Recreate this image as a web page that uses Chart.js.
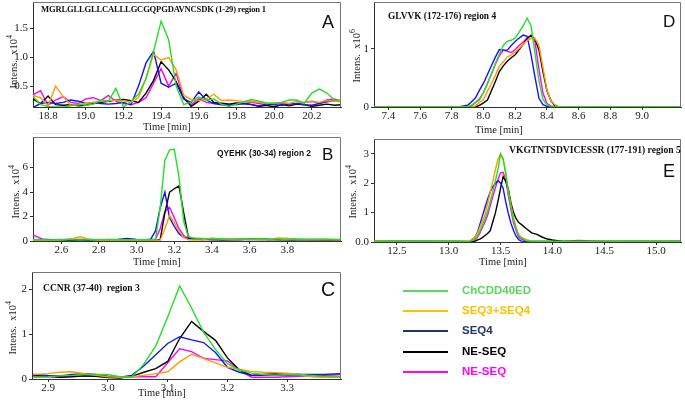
<!DOCTYPE html>
<html><head><meta charset="utf-8">
<script src="https://cdn.jsdelivr.net/npm/chart.js@4.4.1/dist/chart.umd.min.js"></script>
<style>
html,body{margin:0;padding:0;background:#fff;}
body{width:685px;height:401px;overflow:hidden;position:relative;}
canvas{position:absolute;}
.t{position:absolute;white-space:nowrap;line-height:1;}
.pep{font-family:'Liberation Serif','Times New Roman',serif;font-weight:bold;color:#111;}
.pepS{font-family:'Liberation Sans',Arial,sans-serif;font-weight:bold;color:#111;}
.let{font-family:'Liberation Sans',Arial,sans-serif;color:#111;}
.ax{font-family:'Liberation Serif','Times New Roman',serif;font-size:10.5px;color:#222;}
.leg{font-family:'Liberation Sans',Arial,sans-serif;font-weight:bold;font-size:11.5px;}
.ll{position:absolute;height:2.5px;width:45px;left:403px;}
.sep{position:absolute;height:1px;background:#e2e2e2;}
</style></head><body>
<canvas id="cA" width="343" height="135" style="left:0;top:0"></canvas>
<canvas id="cB" width="343" height="133" style="left:0;top:135px"></canvas>
<canvas id="cC" width="343" height="131" style="left:0;top:270px"></canvas>
<canvas id="cD" width="342" height="135" style="left:341px;top:0"></canvas>
<canvas id="cE" width="342" height="131" style="left:341px;top:137px"></canvas>
<div class="sep" style="left:33px;top:133px;width:308px"></div>
<div id="overlay"></div>
<script>
// ---------- series names / colours ----------
const seriesNames = ['ChCDD40ED', 'SEQ3+SEQ4', 'SEQ4', 'NE-SEQ', 'NE-SEQ'];
const lineColors = ['#22e022', '#ff9a00', '#1414f0', '#000000', '#ff00ff'];
const legendColors = ['#5ad65a', '#ffc000', '#1f3864', '#000000', '#ff00ff'];

// ---------- Panel A : MGRLGLLGLLCALLLGCGQPGDAVNCSDK (1-29) region 1 ----------
const timeA = [18.72,18.76,18.80,18.84,18.88,18.92,18.96,19.00,19.04,19.08,19.12,19.16,19.20,19.24,19.28,19.32,19.36,19.40,19.44,19.48,19.52,19.56,19.60,19.64,19.68,19.72,19.76,19.80,19.84,19.88,19.92,19.96,20.00,20.04,20.08,20.12,20.16,20.20,20.24,20.28,20.32,20.36];
const chcddA = [0.32,0.18,0.15,0.14,0.14,0.16,0.19,0.17,0.19,0.26,0.24,0.46,0.14,0.24,0.36,0.63,1.10,1.62,1.30,0.50,0.18,0.23,0.31,0.26,0.28,0.19,0.15,0.19,0.23,0.27,0.24,0.21,0.20,0.22,0.26,0.26,0.20,0.38,0.45,0.38,0.26,0.25];
const seq34A = [0.34,0.30,0.16,0.50,0.32,0.17,0.18,0.20,0.22,0.24,0.25,0.26,0.25,0.22,0.30,0.63,1.05,0.95,0.99,0.78,0.34,0.27,0.25,0.28,0.36,0.25,0.26,0.25,0.23,0.24,0.22,0.20,0.21,0.22,0.20,0.24,0.22,0.23,0.22,0.25,0.24,0.23];
const seq4A = [0.13,0.20,0.22,0.20,0.22,0.26,0.24,0.20,0.22,0.20,0.19,0.20,0.22,0.18,0.50,0.90,1.10,0.55,0.48,0.55,0.28,0.22,0.40,0.26,0.20,0.18,0.17,0.19,0.20,0.18,0.16,0.19,0.18,0.17,0.19,0.20,0.18,0.17,0.20,0.23,0.25,0.24];
const neseqA = [0.28,0.20,0.33,0.18,0.17,0.18,0.16,0.17,0.20,0.22,0.24,0.26,0.27,0.25,0.22,0.38,0.60,0.92,0.78,0.58,0.30,0.15,0.24,0.36,0.22,0.20,0.19,0.21,0.20,0.18,0.15,0.17,0.14,0.18,0.16,0.19,0.18,0.15,0.17,0.19,0.17,0.18];
const neseqMagA = [0.35,0.42,0.17,0.26,0.32,0.22,0.20,0.28,0.30,0.25,0.34,0.24,0.20,0.18,0.22,0.30,0.55,0.80,0.50,0.72,0.28,0.18,0.28,0.22,0.20,0.21,0.19,0.18,0.20,0.22,0.20,0.18,0.20,0.21,0.19,0.20,0.22,0.24,0.21,0.26,0.28,0.24];
const xTicksA = [18.8,19.0,19.2,19.4,19.6,19.8,20.0,20.2];
const yTicksA = [0.5,1.0,1.5];
const yLabelsA = ['0.5','1.0','1.5'];

// ---------- Panel B : QYEHK (30-34) region 2 ----------
const timeB = [2.45,2.50,2.55,2.60,2.65,2.70,2.75,2.80,2.85,2.90,2.95,3.00,3.05,3.075,3.10,3.125,3.15,3.175,3.20,3.225,3.25,3.275,3.30,3.35,3.40,3.45,3.50,3.55,3.60,3.65,3.70,3.75,3.80,3.85,3.90,3.95,4.00,4.05,4.09];
const chcddB = [0.10,0.10,0.08,0.10,0.10,0.08,0.10,0.10,0.10,0.12,0.10,0.10,0.10,0.10,0.10,2.70,6.60,7.45,7.50,5.20,1.60,0.35,0.25,0.20,0.15,0.18,0.15,0.12,0.15,0.18,0.15,0.15,0.12,0.15,0.12,0.15,0.15,0.12,0.12];
const seq34B = [0.05,0.05,0.05,0.08,0.15,0.35,0.12,0.05,0.05,0.05,0.05,0.05,0.05,0.05,0.05,0.05,1.00,2.10,1.50,0.80,0.30,0.10,0.08,0.10,0.25,0.15,0.10,0.12,0.15,0.10,0.12,0.25,0.20,0.10,0.12,0.10,0.10,0.12,0.10];
const seq4B = [0.10,0.12,0.10,0.08,0.15,0.10,0.12,0.10,0.10,0.12,0.20,0.12,0.10,0.15,0.80,2.70,4.00,1.90,1.20,0.60,0.30,0.20,0.15,0.12,0.15,0.12,0.10,0.12,0.15,0.12,0.12,0.15,0.12,0.10,0.12,0.10,0.12,0.10,0.10];
const neseqB = [0.05,0.05,0.05,0.06,0.05,0.05,0.06,0.05,0.05,0.05,0.06,0.05,0.05,0.05,0.05,0.10,2.30,4.00,4.27,4.50,2.30,0.30,0.20,0.15,0.12,0.10,0.10,0.12,0.15,0.18,0.12,0.10,0.10,0.12,0.10,0.10,0.08,0.10,0.10];
const neseqMagB = [0.50,0.15,0.10,0.12,0.10,0.12,0.10,0.10,0.12,0.10,0.12,0.10,0.10,0.12,0.13,1.00,2.40,2.75,1.90,1.00,0.45,0.20,0.15,0.12,0.10,0.12,0.15,0.12,0.10,0.12,0.12,0.15,0.20,0.12,0.10,0.12,0.10,0.10,0.10];
const xTicksB = [2.6,2.8,3.0,3.2,3.4,3.6,3.8];
const yTicksB = [0,2,4,6];
const yLabelsB = ['0','2','4','6'];

// ---------- Panel C : CCNR (37-40) region 3 ----------
const timeC = [2.875,2.90,2.92,2.94,2.96,2.98,3.00,3.02,3.04,3.06,3.08,3.10,3.12,3.14,3.16,3.18,3.20,3.22,3.24,3.26,3.28,3.30,3.32,3.34,3.36,3.39];
const chcddC = [0.04,0.05,0.07,0.08,0.10,0.10,0.10,0.05,0.04,0.33,0.73,1.38,2.07,1.58,1.04,0.66,0.34,0.20,0.13,0.10,0.08,0.10,0.10,0.08,0.06,0.05];
const seq34C = [0.10,0.12,0.15,0.16,0.12,0.08,0.05,0.04,0.05,0.08,0.12,0.16,0.38,0.55,0.46,0.36,0.26,0.22,0.17,0.15,0.14,0.13,0.10,0.05,0.04,0.04];
const seq4C = [0.10,0.08,0.07,0.10,0.12,0.10,0.06,0.04,0.08,0.29,0.54,0.79,0.94,0.87,0.81,0.59,0.26,0.15,0.08,0.08,0.09,0.09,0.10,0.10,0.10,0.12];
const neseqC = [0.08,0.06,0.04,0.05,0.07,0.06,0.03,0.02,0.06,0.15,0.23,0.39,0.90,1.28,1.06,0.86,0.47,0.20,0.08,0.10,0.12,0.10,0.10,0.08,0.06,0.05];
const neseqMagC = [0.05,0.05,0.05,0.06,0.07,0.06,0.05,0.05,0.05,0.05,0.05,0.36,0.67,0.61,0.46,0.43,0.40,0.20,0.04,0.04,0.04,0.05,0.06,0.07,0.08,0.10];
const xTicksC = [2.9,3.0,3.1,3.2,3.3];
const yTicksC = [0,1,2];
const yLabelsC = ['0','1','2'];

// ---------- Panel D : GLVVK (172-176) region 4 ----------
const timeD = [7.31,7.50,7.70,7.85,7.90,7.925,7.95,7.975,8.0,8.025,8.05,8.075,8.10,8.125,8.15,8.175,8.20,8.225,8.25,8.275,8.30,8.325,8.35,8.375,8.40,8.425,8.45,8.475,8.50,8.60,8.70,8.80,8.90,9.00,9.10,9.245];
const chcddD = [0,0,0,0.003,0.01,0.03,0.08,0.12,0.25,0.40,0.57,0.75,0.91,1.06,1.13,1.15,1.19,1.29,1.40,1.53,1.40,0.92,0.45,0.13,0.04,0.01,0,0,0,0,0.005,0.003,0,0,0,0];
const seq34D = [0,0,0,0,0,0,0.02,0.08,0.13,0.27,0.40,0.55,0.70,0.78,0.86,0.90,0.95,1.01,1.08,1.15,1.18,1.18,1.06,0.68,0.29,0.10,0.04,0.01,0,0,0,0,0,0,0,0];
const seq4D = [0,0,0,0.005,0.03,0.09,0.16,0.29,0.41,0.56,0.71,0.86,0.99,0.98,0.98,1.06,1.13,1.19,1.24,1.22,0.90,0.51,0.15,0.04,0.01,0,0,0,0,0.005,0.003,0,0.005,0.003,0,0];
const neseqD = [0,0,0,0,0,0,0,0.03,0.07,0.12,0.28,0.44,0.61,0.71,0.79,0.85,0.90,0.99,1.08,1.18,1.23,1.17,0.98,0.61,0.28,0.11,0.02,0,0,0,0,0,0,0,0,0];
const neseqMagD = [0,0,0,0,0,0.02,0.08,0.14,0.25,0.41,0.57,0.74,0.88,0.98,0.96,0.94,0.99,1.06,1.12,1.19,1.24,1.12,0.65,0.24,0.06,0.02,0,0,0,0,0,0,0,0,0,0];
const xTicksD = [7.4,7.6,7.8,8.0,8.2,8.4,8.6,8.8,9.0];
const yTicksD = [0,1];
const yLabelsD = ['0','1'];

// ---------- Panel E : VKGTNTSDVICESSR (177-191) region 5 ----------
const timeE = [12.28,12.50,12.75,13.00,13.10,13.20,13.25,13.275,13.30,13.325,13.35,13.375,13.40,13.425,13.45,13.475,13.50,13.525,13.55,13.575,13.60,13.625,13.65,13.675,13.70,13.75,13.80,13.85,13.90,13.95,14.00,14.10,14.25,14.50,14.75,15.00,15.24];
const chcddE = [0.02,0.02,0.02,0.02,0.02,0.02,0.08,0.18,0.37,0.57,0.79,1.04,1.37,1.70,2.08,2.46,2.98,2.80,2.37,1.70,1.20,0.75,0.45,0.22,0.15,0.04,0.02,0.02,0.02,0.02,0.02,0.02,0.02,0.02,0.02,0.02,0.02];
const seq34E = [0.03,0.03,0.02,0.03,0.03,0.03,0.15,0.28,0.50,0.70,0.92,1.30,1.67,2.05,2.45,2.80,3.00,2.85,2.30,1.73,1.25,0.84,0.50,0.25,0.16,0.08,0.03,0.02,0.02,0.02,0.02,0.02,0.02,0.03,0.02,0.03,0.02];
const seq4E = [0.02,0.02,0.02,0.02,0.02,0.01,0.15,0.30,0.59,0.88,1.17,1.45,1.70,1.88,1.98,2.09,2.00,1.83,1.36,0.97,0.64,0.39,0.20,0.08,0.03,0.02,0.02,0.02,0.02,0.02,0.02,0.02,0.02,0.02,0.02,0.02,0.02];
const neseqE = [0.02,0.02,0.02,0.02,0.02,0.00,0.02,0.06,0.10,0.15,0.22,0.29,0.38,0.68,0.98,1.38,1.82,2.22,2.06,1.80,1.34,1.00,0.80,0.66,0.60,0.45,0.31,0.26,0.17,0.10,0.07,0.02,0.02,0.02,0.02,0.02,0.02];
const neseqMagE = [0.02,0.03,0.02,0.02,0.02,0.02,0.06,0.14,0.30,0.49,0.68,0.91,1.22,1.54,1.84,2.12,2.35,2.37,2.12,1.58,1.10,0.65,0.39,0.17,0.10,0.03,0.02,0.02,0.02,0.02,0.02,0.02,0.05,0.02,0.02,0.02,0.02];
const xTicksE = [12.5,13.0,13.5,14.0,14.5,15.0];
const yTicksE = [0,1,2,3];
const yLabelsE = ['0.0','1','2','3'];

// ---------- layout (positions/styles, not data) ----------
const panels = [
  {id:'cA', time:timeA, series:[chcddA,seq34A,seq4A,neseqA,neseqMagA], xMin:18.72, xMax:20.355, yMin:0.14, yMax:1.95, xTicks:xTicksA, yTicks:yTicksA, yLabels:yLabelsA, padTop:2, yW:33, xH:28},
  {id:'cB', time:timeB, series:[chcddB,seq34B,seq4B,neseqB,neseqMagB], xMin:2.45, xMax:4.085, yMin:0, yMax:8.5, xTicks:xTicksB, yTicks:yTicksB, yLabels:yLabelsB, padTop:2, yW:33, xH:27},
  {id:'cC', time:timeC, series:[chcddC,seq34C,seq4C,neseqC,neseqMagC], xMin:2.873, xMax:3.39, yMin:0, yMax:2.38, xTicks:xTicksC, yTicks:yTicksC, yLabels:yLabelsC, padTop:2, yW:32, xH:22},
  {id:'cD', time:timeD, series:[chcddD,seq34D,seq4D,neseqD,neseqMagD], xMin:7.31, xMax:9.245, yMin:0, yMax:1.81, xTicks:xTicksD, yTicks:yTicksD, yLabels:yLabelsD, padTop:2, yW:33, xH:28},
  {id:'cE', time:timeE, series:[chcddE,seq34E,seq4E,neseqE,neseqMagE], xMin:12.28, xMax:15.24, yMin:0, yMax:3.5, xTicks:xTicksE, yTicks:yTicksE, yLabels:yLabelsE, padTop:2, yW:33, xH:26}
];

const framePlugin = {
  id: 'frame',
  afterDraw(chart) {
    const {ctx, chartArea: a} = chart;
    ctx.save();
    ctx.strokeStyle = '#777';
    ctx.lineWidth = 1;
    ctx.beginPath();
    ctx.moveTo(a.left, a.top + 0.5);
    ctx.lineTo(a.right - 0.5, a.top + 0.5);
    ctx.lineTo(a.right - 0.5, a.bottom);
    ctx.stroke();
    ctx.restore();
  }
};

const tickFont = {family: "'Liberation Serif', 'Times New Roman', serif", size: 11};

panels.forEach(p => {
  const datasets = p.series.map((vals, i) => ({
    label: seriesNames[i],
    data: p.time.map((t, k) => ({x: t, y: vals[k]})),
    borderColor: lineColors[i],
    borderWidth: 1.4,
    pointRadius: 0,
    tension: 0,
    fill: false
  }));
  new Chart(document.getElementById(p.id), {
    type: 'line',
    data: {datasets},
    plugins: [framePlugin],
    options: {
      responsive: false,
      animation: false,
      devicePixelRatio: 1,
      layout: {padding: {top: p.padTop, right: 2, left: 0, bottom: 0}},
      plugins: {legend: {display: false}, tooltip: {enabled: false}},
      scales: {
        x: {
          type: 'linear', min: p.xMin, max: p.xMax,
          afterBuildTicks: s => { s.ticks = p.xTicks.map(v => ({value: v})); },
          afterFit: s => { s.height = p.xH; s.paddingLeft = 0; s.paddingRight = 0; },
          ticks: {font: tickFont, color: '#222', padding: 0, maxRotation: 0, autoSkip: false,
                  callback: v => Number(v).toFixed(1)},
          grid: {drawOnChartArea: false, tickLength: 3, color: '#333'},
          border: {color: '#333'}
        },
        y: {
          type: 'linear', min: p.yMin, max: p.yMax,
          afterBuildTicks: s => { s.ticks = p.yTicks.map(v => ({value: v})); },
          afterFit: s => { s.width = p.yW; s.paddingTop = 0; s.paddingBottom = 0; },
          ticks: {font: tickFont, color: '#222', padding: 2, autoSkip: false,
                  callback: (v, i) => p.yLabels[i]},
          grid: {drawOnChartArea: false, tickLength: 3, color: '#333'},
          border: {color: '#333'}
        }
      }
    }
  });
});

// ---------- text overlay ----------
const texts = [
  {cls:'pep', txt:'MGRLGLLGLLCALLLGCGQPGDAVNCSDK (1-29) region 1', x:41, y:4.5, fs:8.6, ls:-0.2},
  {cls:'let', txt:'A', x:322, y:12.5, fs:18},
  {cls:'pepS', txt:'QYEHK (30-34) region 2', x:217, y:149, fs:8.4},
  {cls:'let', txt:'B', x:322, y:145.5, fs:17},
  {cls:'pep', txt:'CCNR (37-40)\u00a0 region 3', x:43, y:283, fs:9.6},
  {cls:'let', txt:'C', x:321, y:279.5, fs:19.5},
  {cls:'pep', txt:'GLVVK (172-176) region 4', x:388, y:11.5, fs:9.4},
  {cls:'let', txt:'D', x:663, y:12.6, fs:17},
  {cls:'pep', txt:'VKGTNTSDVICESSR (177-191) region 5', rx:681, y:145, fs:9.6},
  {cls:'let', txt:'E', x:663, y:161.8, fs:18},
  {cls:'ax', txt:'Time [min]', cx:167, cy:127},
  {cls:'ax', txt:'Time [min]', cx:157, cy:262},
  {cls:'ax', txt:'Time [min]', cx:162, cy:393},
  {cls:'ax', txt:'Time [min]', cx:499, cy:130},
  {cls:'ax', txt:'Time [min]', cx:503, cy:262}
];
const ov = document.getElementById('overlay');
texts.forEach(t => {
  const d = document.createElement('div');
  d.className = 't ' + t.cls;
  d.textContent = t.txt;
  if (t.fs) d.style.fontSize = t.fs + 'px';
  if (t.ls) d.style.letterSpacing = t.ls + 'px';
  ov.appendChild(d);
  if (t.cx !== undefined) {
    d.style.left = (t.cx - d.offsetWidth / 2) + 'px';
    d.style.top = (t.cy - d.offsetHeight / 2) + 'px';
  } else if (t.rx !== undefined) {
    d.style.left = (t.rx - d.offsetWidth) + 'px';
    d.style.top = t.y + 'px';
  } else {
    d.style.left = t.x + 'px';
    d.style.top = t.y + 'px';
  }
});
// rotated y-axis titles
const yTitles = [
  {sup:'4', cx:12.5, cy:62},
  {sup:'4', cx:14, cy:192},
  {sup:'4', cx:11, cy:328},
  {sup:'6', cx:355, cy:56},
  {sup:'4', cx:351, cy:192}
];
yTitles.forEach(t => {
  const d = document.createElement('div');
  d.className = 't ax';
  d.innerHTML = 'Intens.&nbsp; x10<sup style="font-size:8px;vertical-align:5px">' + t.sup + '</sup>';
  ov.appendChild(d);
  const w = d.offsetWidth, h = d.offsetHeight;
  d.style.left = (t.cx - w / 2) + 'px';
  d.style.top = (t.cy - h / 2) + 'px';
  d.style.transform = 'rotate(-90deg)';
});
// legend
const legY = [291, 311, 331, 352, 372];
seriesNames.forEach((n, i) => {
  const l = document.createElement('div');
  l.className = 'll';
  l.style.top = (legY[i] - 1.25) + 'px';
  l.style.background = legendColors[i];
  ov.appendChild(l);
  const d = document.createElement('div');
  d.className = 't leg';
  d.textContent = n;
  d.style.color = legendColors[i];
  ov.appendChild(d);
  d.style.left = '462px';
  d.style.top = (legY[i] - d.offsetHeight / 2) + 'px';
});
</script>
</body></html>
